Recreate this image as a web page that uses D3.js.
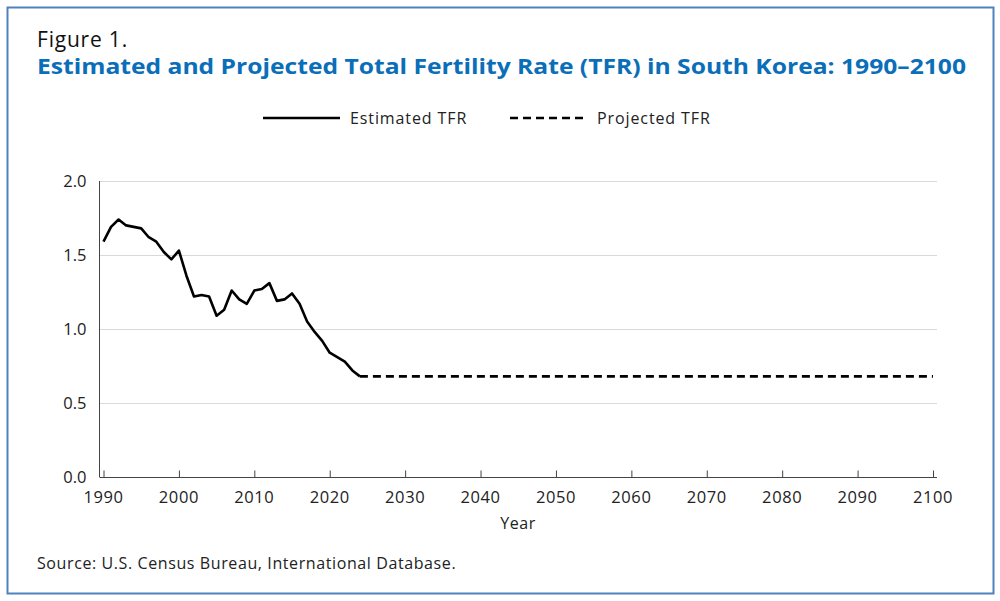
<!DOCTYPE html>
<html>
<head>
<script src="https://d3js.org/d3.v7.min.js"></script>
<style>
 body { margin: 0; background: #fff; }
 text { font-family: "Open Sans", "Noto Sans", sans-serif; }
</style>
</head>
<body>
<svg width="1000" height="601"></svg>
<script>
 // estimated TFR, 1990-2024
 const estYears = d3.range(1990, 2025);
 const estValues = [1.59, 1.69, 1.74, 1.70, 1.69, 1.68, 1.62, 1.59, 1.52, 1.47,
                    1.53, 1.36, 1.22, 1.23, 1.22, 1.09, 1.13, 1.26, 1.20, 1.17,
                    1.26, 1.27, 1.31, 1.19, 1.20, 1.24, 1.17, 1.05, 0.98, 0.92,
                    0.84, 0.81, 0.78, 0.72, 0.68];
 // projected TFR, 2024-2100 (flat)
 const projYears = [2024, 2100];
 const projValues = [0.68, 0.68];

 const xTicks = d3.range(1990, 2101, 10);
 const yTicks = [0, 0.5, 1.0, 1.5, 2.0];

 const svg = d3.select("svg");

 // frame
 svg.append("rect")
    .attr("x", 7.5).attr("y", 7.5)
    .attr("width", 986).attr("height", 586)
    .attr("fill", "none")
    .attr("stroke", "#4f81bd")
    .attr("stroke-width", 2);

 svg.append("text")
    .attr("x", 37).attr("y", 47)
    .attr("font-size", 21)
    .attr("letter-spacing", 0.8)
    .attr("fill", "#111")
    .text("Figure 1.");

 svg.append("text")
    .attr("x", 37).attr("y", 74)
    .attr("font-size", 21)
    .attr("font-weight", "bold")
    .attr("fill", "#0a6eb8")
    .attr("textLength", 929)
    .attr("lengthAdjust", "spacingAndGlyphs")
    .text("Estimated and Projected Total Fertility Rate (TFR) in South Korea: 1990\u20132100");

 const xScale = d3.scaleLinear().domain([1990, 2100]).range([103.5, 933]);
 const yScale = d3.scaleLinear().domain([0, 2]).range([477, 181]);

 // gridlines
 svg.append("g")
    .selectAll("line")
    .data(yTicks.filter(d => d > 0))
    .join("line")
    .attr("x1", 100).attr("x2", 937)
    .attr("y1", d => yScale(d) + 0.5).attr("y2", d => yScale(d) + 0.5)
    .attr("stroke", "#d9d9d9");

 // x axis
 const xAxis = svg.append("g")
    .attr("transform", `translate(0,${yScale(0) + 0.5})`)
    .call(d3.axisTop(xScale).tickValues(xTicks).tickSize(7).tickFormat(""));
 xAxis.select(".domain").attr("d", "M99.5,0H937").attr("stroke", "#444");
 xAxis.selectAll(".tick line").attr("stroke", "#444");

 svg.append("g")
    .selectAll("text")
    .data(xTicks)
    .join("text")
    .attr("x", d => xScale(d))
    .attr("y", 503)
    .attr("text-anchor", "middle")
    .attr("font-size", 16.5)
    .attr("letter-spacing", 0.6)
    .attr("fill", "#222")
    .text(d => d);

 // y axis
 const yAxis = svg.append("g")
    .attr("transform", "translate(99.5,0)")
    .call(d3.axisLeft(yScale).tickValues(yTicks).tickSize(0).tickPadding(13)
           .tickFormat(d3.format(".1f")));
 yAxis.select(".domain").attr("d", `M0,${yScale(2)}V${yScale(0)}`).attr("stroke", "#444");
 yAxis.selectAll(".tick text")
    .attr("font-size", 16.5)
    .attr("fill", "#222")
    .attr("font-family", "'Open Sans', 'Noto Sans', sans-serif");

 svg.append("text")
    .attr("x", 518).attr("y", 529)
    .attr("text-anchor", "middle")
    .attr("font-size", 16)
    .attr("letter-spacing", 0.5)
    .attr("fill", "#222")
    .text("Year");

 const line = d3.line()
    .x(d => xScale(d[0]))
    .y(d => yScale(d[1]));

 svg.append("path")
    .datum(d3.zip(estYears, estValues))
    .attr("d", line)
    .attr("fill", "none")
    .attr("stroke", "#000")
    .attr("stroke-width", 2.6)
    .attr("stroke-linejoin", "round");

 svg.append("path")
    .datum(d3.zip(projYears, projValues))
    .attr("d", line)
    .attr("fill", "none")
    .attr("stroke", "#000")
    .attr("stroke-width", 2.6)
    .attr("stroke-dasharray", "8,5");

 // legend
 const legend = [
   {label: "Estimated TFR", x: 263, dash: null},
   {label: "Projected TFR", x: 510, dash: "8,5"}
 ];
 const lg = svg.append("g");
 lg.selectAll("line")
   .data(legend)
   .join("line")
   .attr("x1", d => d.x).attr("x2", d => d.x + 77)
   .attr("y1", 118).attr("y2", 118)
   .attr("stroke", "#000")
   .attr("stroke-width", 2.6)
   .attr("stroke-dasharray", d => d.dash);
 lg.selectAll("text")
   .data(legend)
   .join("text")
   .attr("x", d => d.x + 87)
   .attr("y", 124)
   .attr("font-size", 16)
   .attr("letter-spacing", 0.9)
   .attr("fill", "#222")
   .text(d => d.label);

 svg.append("text")
    .attr("x", 37).attr("y", 569)
    .attr("font-size", 16)
    .attr("letter-spacing", 0.6)
    .attr("fill", "#222")
    .text("Source: U.S. Census Bureau, International Database.");
</script>
</body>
</html>
